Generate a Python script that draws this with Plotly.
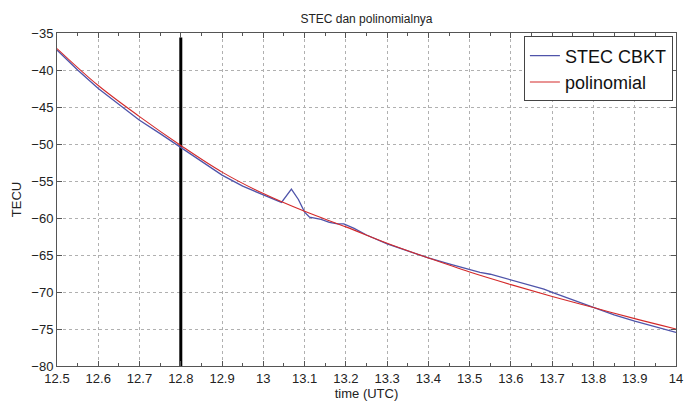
import plotly.graph_objects as go

# STEC observed (blue)
stec_t = [12.5, 12.55, 12.6, 12.65, 12.7, 12.75, 12.8, 12.85, 12.9, 12.95,
          13.0, 13.02, 13.044, 13.068, 13.085, 13.1, 13.112, 13.14, 13.16, 13.18,
          13.195, 13.22, 13.25, 13.3, 13.35, 13.4, 13.45, 13.5, 13.525, 13.55,
          13.6, 13.63, 13.68, 13.7, 13.75, 13.8, 13.85, 13.9, 13.95, 14.0]
stec_v = [-37.3, -40.0, -42.5, -44.7, -46.8, -48.6, -50.45, -52.4, -54.2, -55.7,
          -56.9, -57.4, -57.9, -56.1, -57.5, -59.2, -59.9, -60.2, -60.6, -60.8,
          -60.8, -61.4, -62.3, -63.5, -64.5, -65.4, -66.2, -67.0, -67.35, -67.6,
          -68.4, -68.8, -69.6, -70.05, -71.1, -72.15, -73.1, -73.95, -74.7, -75.45]

# polynomial fit (red)
poly_t = [12.5, 12.6, 12.7, 12.8, 12.9, 13.0, 13.1, 13.2, 13.3, 13.4,
          13.5, 13.6, 13.7, 13.8, 13.9, 14.0]
poly_v = [-37.1, -42.1, -46.3, -50.2, -53.8, -56.7, -59.1, -61.2, -63.4, -65.4,
          -67.3, -69.0, -70.6, -72.1, -73.6, -75.0]

# marker line at 12.8 UTC
marker_t = [12.8, 12.8]
marker_v = [-35.6, -80]

x_ticks = [12.5, 12.6, 12.7, 12.8, 12.9, 13.0, 13.1, 13.2, 13.3, 13.4, 13.5,
           13.6, 13.7, 13.8, 13.9, 14.0]
x_labels = ["12.5", "12.6", "12.7", "12.8", "12.9", "13", "13.1", "13.2", "13.3",
            "13.4", "13.5", "13.6", "13.7", "13.8", "13.9", "14"]
y_ticks = [-80, -75, -70, -65, -60, -55, -50, -45, -40, -35]

FONT = "Liberation Sans, Arial, sans-serif"

fig = go.Figure()
fig.add_trace(go.Scatter(x=marker_t, y=marker_v, mode="lines",
                         line=dict(color="black", width=3),
                         showlegend=False, hoverinfo="skip"))
fig.add_trace(go.Scatter(x=stec_t, y=stec_v, mode="lines", name="STEC CBKT",
                         line=dict(color="#4f54aa", width=1.3)))
fig.add_trace(go.Scatter(x=poly_t, y=poly_v, mode="lines", name="polinomial",
                         line=dict(color="#d42a2a", width=1.1, shape="spline")))

axis_common = dict(
    showline=True, linecolor="#555555", linewidth=1, mirror="ticks",
    ticks="inside", ticklen=5, tickcolor="#555555",
    showgrid=True, gridcolor="#b0b0b0", griddash="dot", gridwidth=1,
    zeroline=False, automargin=False,
    tickfont=dict(size=13, color="#222222", family=FONT),
)

fig.update_layout(
    width=698, height=404,
    margin=dict(l=57, r=22, t=33, b=38),
    paper_bgcolor="white", plot_bgcolor="white",
    title=dict(text="STEC dan polinomialnya", x=0.525, xanchor="center",
               y=0.965, yanchor="top", automargin=False,
               font=dict(size=12, color="#222222", family=FONT)),
    font=dict(family=FONT),
    showlegend=True,
    legend=dict(x=0.995, xanchor="right", y=0.99, yanchor="top",
                bgcolor="white", bordercolor="#444444", borderwidth=1,
                font=dict(size=18, color="#111111", family=FONT),
                itemwidth=30, tracegroupgap=0),
    xaxis=dict(range=[12.5, 14], tickvals=x_ticks, ticktext=x_labels,
               minor=dict(ticks="inside", ticklen=3, dtick=0.05, tick0=12.5,
                          tickcolor="#555555", showgrid=False),
               title=dict(text="time (UTC)", standoff=0,
                          font=dict(size=13, color="#222222", family=FONT)),
               **axis_common),
    yaxis=dict(range=[-80, -35], tickvals=y_ticks,
               title=dict(text="TECU", standoff=6,
                          font=dict(size=13, color="#222222", family=FONT)),
               **axis_common),
)

# page body has a default 8px margin; drop it so the figure sits at 0,0
fig.write_html("out.html", config={"displayModeBar": False},
               post_script="document.body.style.margin='0';")
